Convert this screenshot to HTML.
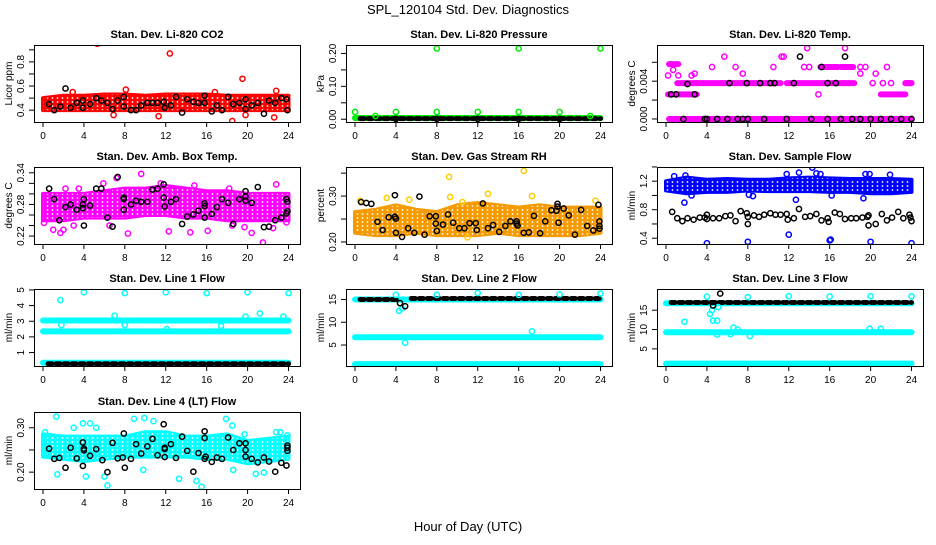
<!DOCTYPE html>
<html><head><meta charset="utf-8"><style>
body{margin:0;background:#fff}
svg text{font-family:"Liberation Sans",Arial,sans-serif}
</style></head><body>
<svg id="chart" width="936" height="540" viewBox="0 0 936 540" xmlns="http://www.w3.org/2000/svg">
<defs>
<pattern id="speck" width="5" height="4" patternUnits="userSpaceOnUse"><circle cx="2.5" cy="2" r="0.9" fill="#fff"/></pattern>
</defs>
<text x="468" y="14" text-anchor="middle" font-size="13">SPL_120104  Std. Dev. Diagnostics</text>
<text x="468" y="531" text-anchor="middle" font-size="13">Hour of Day (UTC)</text>
</svg>
<script>
const xTicks=[0,4,8,12,16,20,24];
const bandHours=[0,2,4,6,8,10,12,14,16,18,20,22,24];
// CO2
const co2Lo=[0.40,0.40,0.40,0.40,0.40,0.40,0.40,0.40,0.40,0.40,0.40,0.40,0.40];
const co2Hi=[0.50,0.52,0.52,0.53,0.53,0.52,0.53,0.53,0.53,0.52,0.52,0.52,0.52];
const co2RedX=[5.3,12.4,19.5,22.8,18.5,2.9,8.1,16.8,11.3,22.6,19.8,6.9];
const co2RedY=[0.95,0.87,0.66,0.56,0.31,0.55,0.57,0.55,0.35,0.34,0.36,0.36];
const co2BlkX=[0.6,1.1,1.7,2.2,2.7,3.3,3.9,3.9,4.6,5.2,5.7,6.3,6.8,7.3,7.9,7.9,8.6,9.1,9.6,10.2,10.7,11.2,11.8,11.9,12.5,13,13.6,14.1,14.7,15.2,15.8,15.8,16.5,17,17.5,18.1,18.6,19.2,19.8,19.8,20.4,21,21.6,22.1,22.7,23.3,23.8,23.9];
const co2BlkY=[0.45,0.40,0.43,0.58,0.42,0.46,0.48,0.42,0.45,0.50,0.48,0.46,0.41,0.48,0.51,0.43,0.40,0.40,0.44,0.46,0.46,0.46,0.47,0.42,0.44,0.51,0.38,0.49,0.47,0.46,0.52,0.46,0.39,0.44,0.40,0.51,0.45,0.46,0.49,0.41,0.44,0.46,0.37,0.48,0.46,0.50,0.49,0.40];
// Pressure
const presSegX0=[0];const presSegX1=[24];const presSegY=[0.004];
const presGrnX=[8,16,24,0,4,8,12,16,20,2,23];
const presGrnY=[0.215,0.215,0.215,0.022,0.022,0.022,0.022,0.022,0.022,0.01,0.01];
const presBlkSegX0=[0.5];const presBlkSegX1=[24];const presBlkSegY=[0.002];
const presBlkX=[4,8,12,16,20];
const presBlkY=[0.001,0.001,0.001,0.001,0.001];
// Li-820 Temp
const tempSegX0=[0.3,0.2,1.1,2.8,11.8,23.4,15.1,17.1,0.3,21,23.4];
const tempSegX1=[24,3.0,2.8,11.2,18.4,24,16.8,18.3,1.2,23.4,24];
const tempSegY=[0,0.0026,0.0038,0.0038,0.0038,0.0038,0.0055,0.0055,0.0058,0.0026,0.0038];
const tempMagX=[5.7,11.3,11.5,13.8,17.5,4.5,6.8,10.5,13.5,14,19,19.5,21.6,19,20.5,7.5,0.2,1.2,2.5,2.8,14.9,0.7,20.2,21.2,22];
const tempMagY=[0.0066,0.0066,0.0066,0.0075,0.0075,0.0055,0.0055,0.0055,0.0055,0.0055,0.0055,0.0055,0.0055,0.0048,0.0048,0.0048,0.0046,0.0046,0.0046,0.0048,0.0026,0.0052,0.0038,0.0038,0.0038];
const tempBlkX=[1.7,3.8,4,5,6,7,7.5,8,9.6,11.8,14.2,15.8,17.1,18.2,19,20,21,22,23,24,1,2.8,0.5,2.1,6.2,7.9,9.2,10.2,10.6,12.5,15.8,16.6,13.1,17.5,15.2];
const tempBlkY=[0,0,0,0,0,0,0,0,0,0,0,0,0,0,0,0,0,0,0,0,0.0026,0.0026,0.0026,0.0037,0.0038,0.0038,0.0038,0.0038,0.0038,0.0038,0.0038,0.0038,0.0066,0.0066,0.0055];
// Amb box temp
const ambLo=[0.25,0.25,0.255,0.255,0.255,0.26,0.26,0.255,0.255,0.25,0.25,0.25,0.25];
const ambHi=[0.30,0.30,0.30,0.305,0.31,0.31,0.315,0.31,0.305,0.305,0.30,0.30,0.30];
const ambMagX=[9.6,7.2,22.8,21.5,1.7,8.3,14.4,20.4,0.1,2,3,1,6.5,12.3,16.1,18.5,19.7,22.5,23.8,5.9,11.5,14.8,18.2,2.2,3.5];
const ambMagY=[0.338,0.33,0.318,0.208,0.226,0.225,0.227,0.226,0.245,0.232,0.24,0.232,0.24,0.229,0.23,0.24,0.237,0.235,0.246,0.32,0.32,0.316,0.31,0.31,0.31];
const ambBlkX=[0.6,1.1,1.6,2.2,2.7,3.3,3.9,3.9,4,4,4.6,5.2,5.7,6.3,6.8,7.3,7.9,7.9,7.9,8.6,9.1,9.6,10.2,10.7,11.2,11.8,11.8,11.9,12.5,13,13.6,14.1,14.7,15.2,15.8,15.8,15.8,16.5,17,17.5,18.1,18.6,19.2,19.8,19.8,19.8,20.4,21,21.6,22.1,22.7,23.3,23.8,23.8,23.9,23.9];
const ambBlkY=[0.31,0.29,0.25,0.275,0.28,0.27,0.273,0.28,0.29,0.24,0.278,0.31,0.31,0.255,0.238,0.332,0.293,0.29,0.27,0.28,0.287,0.285,0.285,0.308,0.31,0.318,0.293,0.276,0.285,0.29,0.243,0.257,0.261,0.268,0.282,0.277,0.255,0.262,0.275,0.29,0.283,0.243,0.29,0.295,0.287,0.305,0.283,0.313,0.237,0.238,0.25,0.255,0.263,0.29,0.285,0.267];
// RH
const rhLo=[0.22,0.215,0.215,0.22,0.215,0.215,0.215,0.22,0.215,0.215,0.215,0.215,0.22];
const rhHi=[0.265,0.27,0.28,0.27,0.265,0.28,0.285,0.28,0.275,0.28,0.275,0.275,0.275];
const rhYelX=[9.2,16.5,13,17.3,23.5,11,0.5,3.1,9.3,10.5,5.3];
const rhYelY=[0.342,0.355,0.305,0.3,0.29,0.21,0.29,0.296,0.298,0.287,0.292];
const rhBlkX=[0.6,1.1,1.6,2.2,2.7,3.3,3.9,3.9,4,4,4.6,5.2,5.8,6.3,6.8,7.3,7.9,7.9,8,8.6,9.1,9.6,10.2,10.7,11.2,11.8,11.9,12.5,13,13.5,14.1,14.7,15.2,15.8,15.8,15.9,16.5,17,17.5,18.1,18.6,19.2,19.7,19.8,19.8,19.9,20.4,20.9,21.5,22.1,22.7,23.3,23.8,23.9,23.9,23.9];
const rhBlkY=[0.287,0.285,0.283,0.244,0.226,0.254,0.302,0.255,0.251,0.22,0.211,0.23,0.22,0.299,0.216,0.256,0.256,0.24,0.224,0.238,0.26,0.242,0.23,0.23,0.241,0.241,0.226,0.284,0.23,0.237,0.222,0.235,0.245,0.245,0.24,0.236,0.22,0.221,0.257,0.219,0.245,0.269,0.268,0.277,0.283,0.242,0.273,0.258,0.216,0.27,0.235,0.225,0.281,0.245,0.235,0.229];
// Sample flow
const sfLo=[1.07,1.03,1.05,1.05,1.07,1.06,1.06,1.06,1.05,1.05,1.03,1.03,1.05];
const sfHi=[1.2,1.25,1.22,1.23,1.22,1.22,1.24,1.25,1.24,1.23,1.23,1.23,1.22];
const sfBluX=[4,8,12,16,16.1,20,24,1.8,12.7,19.3,14.3,13,11.8,19.9,19.5,21.9,1.9,0.8,8.1,8.5,2.5,16.2,14.7,15.1];
const sfBluY=[0.33,0.35,0.45,0.37,0.38,0.35,0.33,0.9,0.94,0.96,1.39,1.32,1.3,1.3,1.3,1.29,1.28,1.27,1.01,0.99,1.0,1.0,1.31,1.3];
const sfBlkX=[0.6,1.1,1.6,2.1,2.7,3.3,3.8,4,4,4.6,5.2,5.8,6.3,6.8,7.3,7.9,8,8,8.6,9.1,9.6,10.2,10.7,11.2,11.8,11.9,12.5,13,13.6,14.1,14.7,15.2,15.8,15.9,16.5,17,17.5,18.1,18.6,19.2,19.7,19.8,19.8,20.5,21.1,21.6,22.1,22.7,23.2,23.8,23.9,24];
const sfBlkY=[0.77,0.68,0.64,0.68,0.66,0.69,0.69,0.73,0.67,0.68,0.68,0.71,0.72,0.64,0.78,0.75,0.7,0.6,0.72,0.7,0.73,0.75,0.73,0.73,0.74,0.66,0.68,0.81,0.7,0.71,0.74,0.65,0.68,0.63,0.76,0.74,0.67,0.68,0.68,0.69,0.7,0.72,0.58,0.6,0.74,0.65,0.69,0.77,0.68,0.73,0.69,0.64];
// Line 1
const l1SegX0=[0,0,0];const l1SegX1=[24,24,24];const l1SegY=[3.05,2.35,0.35];
const l1CyX=[1.7,4,8,12,16,20,24,21.2,7,19.8,23.5,1.8,8,17.4,12.1];
const l1CyY=[4.35,4.85,4.8,4.85,4.8,4.85,4.8,3.5,3.35,3.3,3.3,2.75,2.75,2.7,2.5];
const l1BlkSegX0=[0.5];const l1BlkSegX1=[24];const l1BlkSegY=[0.28];
// Line 2
const l2SegX0=[0,0,0];const l2SegX1=[24,24,24];const l2SegY=[15,6.7,0.8];
const l2CyX=[4,4.3,4.6,4.9,8,12,16,17.3,20,24];
const l2CyY=[16,12.5,13,5.5,16,16.4,16,8,16.1,16.3];
const l2BlkSegX0=[0.5,5.5];const l2BlkSegX1=[4.2,24];const l2BlkSegY=[15,15.2];
const l2BlkX=[4.4,4.9];const l2BlkY=[14.2,13.5];
// Line 3
const l3SegX0=[0,0,0];const l3SegX1=[24,24,24];const l3SegY=[16.8,9.3,1.2];
const l3CyX=[4,8,12,16,20,24,1.8,4.3,4.5,4.6,5,5.1,6.6,7,8.2,5,6.3,19.9,21];
const l3CyY=[18.5,18.4,18.6,18.5,18.6,18.6,12,14,15,12.3,12.3,15.8,10.5,10,8.3,8.7,8.8,10.2,10.2];
const l3BlkSegX0=[0.5];const l3BlkSegX1=[24];const l3BlkSegY=[17];
const l3BlkX=[5.3,4.6];const l3BlkY=[19.3,16.2];
// Line 4
const l4Lo=[0.235,0.23,0.225,0.23,0.235,0.235,0.235,0.235,0.23,0.23,0.22,0.225,0.23];
const l4Hi=[0.285,0.28,0.28,0.28,0.28,0.29,0.29,0.28,0.28,0.285,0.27,0.275,0.28];
const l4CyX=[1.3,6.3,15.5,1.4,6,4.2,13.3,15,9.8,18.6,3,3.9,4.6,5.2,8.9,9.9,10.8,17.9,18.5,19.7,0.2,20.8,21.6,22.8,23.2,23.9];
const l4CyY=[0.325,0.17,0.167,0.195,0.19,0.19,0.185,0.18,0.205,0.205,0.3,0.31,0.31,0.3,0.32,0.322,0.315,0.32,0.305,0.285,0.29,0.196,0.199,0.29,0.29,0.283];
const l4BlkX=[0.6,1.1,1.6,2.2,2.7,3.3,3.9,3.9,4,4,4.6,5.2,5.8,6.3,6.8,7.3,7.8,7.9,8,8.6,9.1,9.6,10.2,10.7,11.2,11.8,11.9,11.9,11.9,12.5,13,13.6,14.1,14.7,15.2,15.8,15.8,15.9,15.8,16.5,17,17.5,18.1,18.6,19.2,19.8,19.8,19.8,20.4,21,21.6,22.1,22.7,23.3,23.8,23.9,23.9,23.9];
const l4BlkY=[0.253,0.23,0.232,0.21,0.255,0.231,0.214,0.267,0.253,0.249,0.237,0.252,0.227,0.2,0.266,0.231,0.233,0.287,0.21,0.23,0.263,0.242,0.258,0.275,0.238,0.308,0.255,0.252,0.234,0.263,0.232,0.28,0.248,0.201,0.243,0.292,0.277,0.235,0.23,0.223,0.233,0.23,0.278,0.25,0.265,0.265,0.25,0.235,0.23,0.222,0.233,0.224,0.201,0.221,0.215,0.248,0.26,0.255];

const NS='http://www.w3.org/2000/svg';
const svg=document.getElementById('chart');
const colL=[34,346,657], rowT=[45,167,289,412], W=266, H=77;
function el(tag,attrs,parent){const e=document.createElementNS(NS,tag);for(const k in attrs)e.setAttribute(k,attrs[k]);(parent||svg).appendChild(e);return e;}

const panels=[
 {id:'co2',title:'Stan. Dev. Li-820 CO2',ylab:'Licor ppm',c:0,r:0,dom:[0.302,0.94],ticks:[0.4,0.5,0.6,0.7,0.8,0.9],labs:[0.4,0.6,0.8],fmt:1,
  bands:[{lo:co2Lo,hi:co2Hi,col:'#ff0000'}],pts:[{x:co2RedX,y:co2RedY,col:'#ff0000'},{x:co2BlkX,y:co2BlkY,col:'#000'}]},
 {id:'pressure',title:'Stan. Dev. Li-820 Pressure',ylab:'kPa',c:1,r:0,dom:[-0.0083,0.2256],ticks:[0,0.05,0.1,0.15,0.2],labs:[0,0.1,0.2],fmt:2,
  segs:[{x0:presSegX0,x1:presSegX1,y:presSegY,col:'#00ee00'},{x0:presBlkSegX0,x1:presBlkSegX1,y:presBlkSegY,col:'#000',thin:1}],pts:[{x:presGrnX,y:presGrnY,col:'#00ee00'},{x:presBlkX,y:presBlkY,col:'#000'}]},
 {id:'temp',title:'Stan. Dev. Li-820 Temp.',ylab:'degrees C',c:2,r:0,dom:[-0.00032,0.00783],ticks:[0,0.002,0.004,0.006],labs:[0,0.004],fmt:3,
  segs:[{x0:tempSegX0,x1:tempSegX1,y:tempSegY,col:'#ff00ff'}],pts:[{x:tempMagX,y:tempMagY,col:'#ff00ff'},{x:tempBlkX,y:tempBlkY,col:'#000'}]},
 {id:'amb',title:'Stan. Dev. Amb. Box Temp.',ylab:'degrees C',c:0,r:1,dom:[0.205,0.351],ticks:[0.22,0.24,0.26,0.28,0.30,0.32,0.34],labs:[0.22,0.28,0.34],fmt:2,
  bands:[{lo:ambLo,hi:ambHi,col:'#ff00ff'}],pts:[{x:ambMagX,y:ambMagY,col:'#ff00ff'},{x:ambBlkX,y:ambBlkY,col:'#000'}]},
 {id:'rh',title:'Stan. Dev. Gas Stream RH',ylab:'percent',c:1,r:1,dom:[0.1956,0.3634],ticks:[0.2,0.25,0.3,0.35],labs:[0.2,0.3],fmt:2,
  bands:[{lo:rhLo,hi:rhHi,col:'#f59a00'}],pts:[{x:rhYelX,y:rhYelY,col:'#ffcc00'},{x:rhBlkX,y:rhBlkY,col:'#000'}]},
 {id:'sample-flow',title:'Stan. Dev. Sample Flow',ylab:'ml/min',c:2,r:1,dom:[0.319,1.399],ticks:[0.4,0.6,0.8,1.0,1.2,1.4],labs:[0.4,0.8,1.2],fmt:1,
  bands:[{lo:sfLo,hi:sfHi,col:'#0000ff'}],pts:[{x:sfBluX,y:sfBluY,col:'#0000ff'},{x:sfBlkX,y:sfBlkY,col:'#000'}]},
 {id:'line1',title:'Stan. Dev. Line 1 Flow',ylab:'ml/min',c:0,r:2,dom:[0.14,5.06],ticks:[1,2,3,4,5],labs:[1,2,3,4,5],fmt:0,
  segs:[{x0:l1SegX0,x1:l1SegX1,y:l1SegY,col:'#00ffff'},{x0:l1BlkSegX0,x1:l1BlkSegX1,y:l1BlkSegY,col:'#000',thin:1}],pts:[{x:l1CyX,y:l1CyY,col:'#00ffff'}]},
 {id:'line2',title:'Stan. Dev. Line 2 Flow',ylab:'ml/min',c:1,r:2,dom:[0.4,17.29],ticks:[5,10,15],labs:[5,10,15],fmt:0,
  segs:[{x0:l2SegX0,x1:l2SegX1,y:l2SegY,col:'#00ffff'},{x0:l2BlkSegX0,x1:l2BlkSegX1,y:l2BlkSegY,col:'#000',thin:1}],pts:[{x:l2CyX,y:l2CyY,col:'#00ffff'},{x:l2BlkX,y:l2BlkY,col:'#000'}]},
 {id:'line3',title:'Stan. Dev. Line 3 Flow',ylab:'ml/min',c:2,r:2,dom:[0.57,20.48],ticks:[5,10,15],labs:[5,10,15],fmt:0,
  segs:[{x0:l3SegX0,x1:l3SegX1,y:l3SegY,col:'#00ffff'},{x0:l3BlkSegX0,x1:l3BlkSegX1,y:l3BlkSegY,col:'#000',thin:1}],pts:[{x:l3CyX,y:l3CyY,col:'#00ffff'},{x:l3BlkX,y:l3BlkY,col:'#000'}]},
 {id:'line4',title:'Stan. Dev. Line 4 (LT) Flow',ylab:'ml/min',c:0,r:3,dom:[0.162,0.3355],ticks:[0.2,0.25,0.3],labs:[0.2,0.3],fmt:2,
  bands:[{lo:l4Lo,hi:l4Hi,col:'#00ffff'}],pts:[{x:l4CyX,y:l4CyY,col:'#00ffff'},{x:l4BlkX,y:l4BlkY,col:'#000'}]}
];

panels.forEach(p=>{
  const L=colL[p.c],T=rowT[p.r],B=T+H;
  const g=el('g',{});
  
  
  const xs=h=>L+9+h*(245.5/24);
  const ys=v=>B-(v-p.dom[0])/(p.dom[1]-p.dom[0])*H;
  const t=el('text',{x:L+W/2,y:T-7,'text-anchor':'middle','font-size':11,'font-weight':'bold'},g);
  
  
  t.textContent=p.title;
  const yl=el('text',{x:0,y:0,'text-anchor':'middle','font-size':10,transform:`translate(${L-22},${T+H/2}) rotate(-90)`},g);
  
  
  yl.textContent=p.ylab;
  const clip=el('clipPath',{id:'clip-'+p.id},svg);
  el('rect',{x:L,y:T,width:W,height:H},clip);
  const mg=el('g',{'clip-path':`url(#clip-${p.id})`},g);
  (p.bands||[]).forEach(b=>{
    let d='';
    bandHours.forEach((h,i)=>{d+=(i?'L':'M')+xs(h)+','+ys(b.hi[i]);});
    for(let i=bandHours.length-1;i>=0;i--)d+='L'+xs(bandHours[i])+','+ys(b.lo[i]);
    d+='Z';
    const a=el('path',{d,fill:b.col,stroke:b.col,'stroke-width':4,'stroke-linejoin':'round'},mg);
    
    
    el('path',{d,fill:'url(#speck)'},mg);
  });
  (p.segs||[]).forEach(s=>{
    s.y.forEach((v,i)=>{
      const ln=el('line',{x1:xs(s.x0[i]),x2:xs(s.x1[i]),y1:ys(v),y2:ys(v),stroke:s.col,'stroke-width':s.thin?5:6,'stroke-linecap':'round','stroke-dasharray':s.thin?'4 4':'none'},mg);
      
      
    });
  });
  (p.pts||[]).forEach(s=>{
    s.x.forEach((h,i)=>{
      const c=el('circle',{cx:xs(h),cy:ys(s.y[i]),r:2.6,fill:'none',stroke:s.col,'stroke-width':1.5},mg);
      
      
    });
  });
  const box=el('rect',{x:L+0.5,y:T+0.5,width:W,height:H,fill:'none',stroke:'#000','stroke-width':1},g);
  
  
  xTicks.forEach(h=>{
    el('line',{x1:xs(h),x2:xs(h),y1:B,y2:B+5,stroke:'#000'},g);
    const tx=el('text',{x:xs(h),y:B+17,'text-anchor':'middle','font-size':10},g);
    
    
    tx.textContent=h;
  });
  p.ticks.forEach(v=>{el('line',{x1:L-5,x2:L,y1:ys(v),y2:ys(v),stroke:'#000'},g);});
  p.labs.forEach(v=>{
    const ty=el('text',{x:0,y:0,'text-anchor':'middle','font-size':10,transform:`translate(${L-10},${ys(v)}) rotate(-90)`},g);
    
    
    ty.textContent=v.toFixed(p.fmt);
  });
});
</script>
</body></html>
